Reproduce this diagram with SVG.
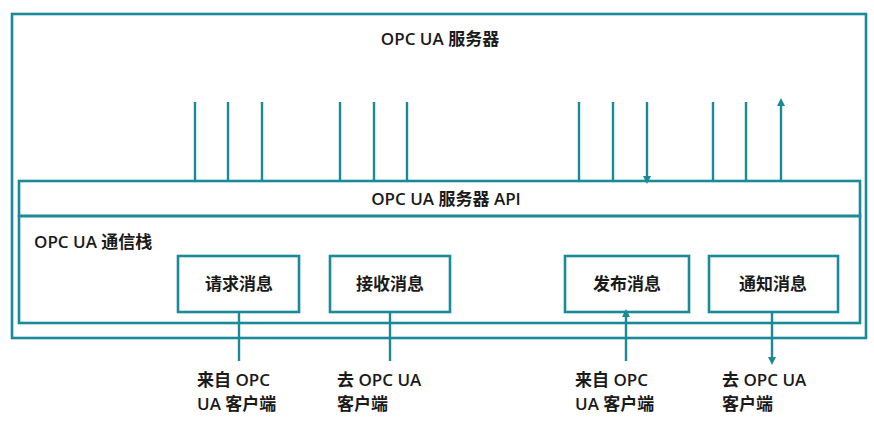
<svg xmlns="http://www.w3.org/2000/svg" width="874" height="436" viewBox="0 0 874 436">
<style>
.b{fill:none;stroke:#1a8a99;stroke-width:2.6}
.c{stroke:#1a8a99;stroke-width:2.4;fill:none}
text{font-family:"Open Sans","Noto Sans CJK SC",sans-serif;font-size:17px;font-weight:600;fill:#1a1a1a}
.m{text-anchor:middle}
</style>
<defs><marker id="a" markerWidth="8" markerHeight="8" refX="4" refY="4" orient="auto" markerUnits="userSpaceOnUse"><path d="M0,0 L8,4 L0,8 z" fill="#1a8a99"/></marker></defs>
<g id="server"><rect class="b" x="12" y="14" width="854" height="324"/><text class="m" x="440" y="45">OPC UA 服务器</text></g>
<g id="api"><rect class="b" x="19" y="181" width="841" height="35"/><text class="m" x="446" y="205">OPC UA 服务器 API</text></g>
<g id="stack"><rect class="b" x="19" y="216" width="841" height="107"/><text x="34" y="248">OPC UA 通信栈</text></g>
<g id="req"><rect class="b" x="178" y="256" width="121" height="56"/><text class="m" x="239" y="290">请求消息</text></g>
<g id="rcv"><rect class="b" x="330" y="256" width="120" height="56"/><text class="m" x="390" y="290">接收消息</text></g>
<g id="pub"><rect class="b" x="565" y="256" width="124" height="56"/><text class="m" x="627" y="290">发布消息</text></g>
<g id="ntf"><rect class="b" x="709" y="256" width="129" height="56"/><text class="m" x="773" y="290">通知消息</text></g>
<g id="connectors">
<path class="c" marker-end="url(#a)" d="M195,102V180M228,102V180M262,102V180M579,102V180M613,102V180M647,102V180"/>
<path class="c" marker-end="url(#a)" d="M340,180V102M374,180V102M407,180V102M713,180V102M746,180V102M781,180V102"/>
<path class="c" marker-end="url(#a)" d="M239,361V313M626,361V313"/>
<path class="c" marker-end="url(#a)" d="M390,313V361M772,313V361"/>
</g>
<g id="labels">
<text x="197" y="386">来自 OPC</text><text x="197" y="410">UA 客户端</text>
<text x="337" y="386">去 OPC UA</text><text x="337" y="410">客户端</text>
<text x="575" y="386">来自 OPC</text><text x="575" y="410">UA 客户端</text>
<text x="722" y="386">去 OPC UA</text><text x="722" y="410">客户端</text>
</g>
</svg>
